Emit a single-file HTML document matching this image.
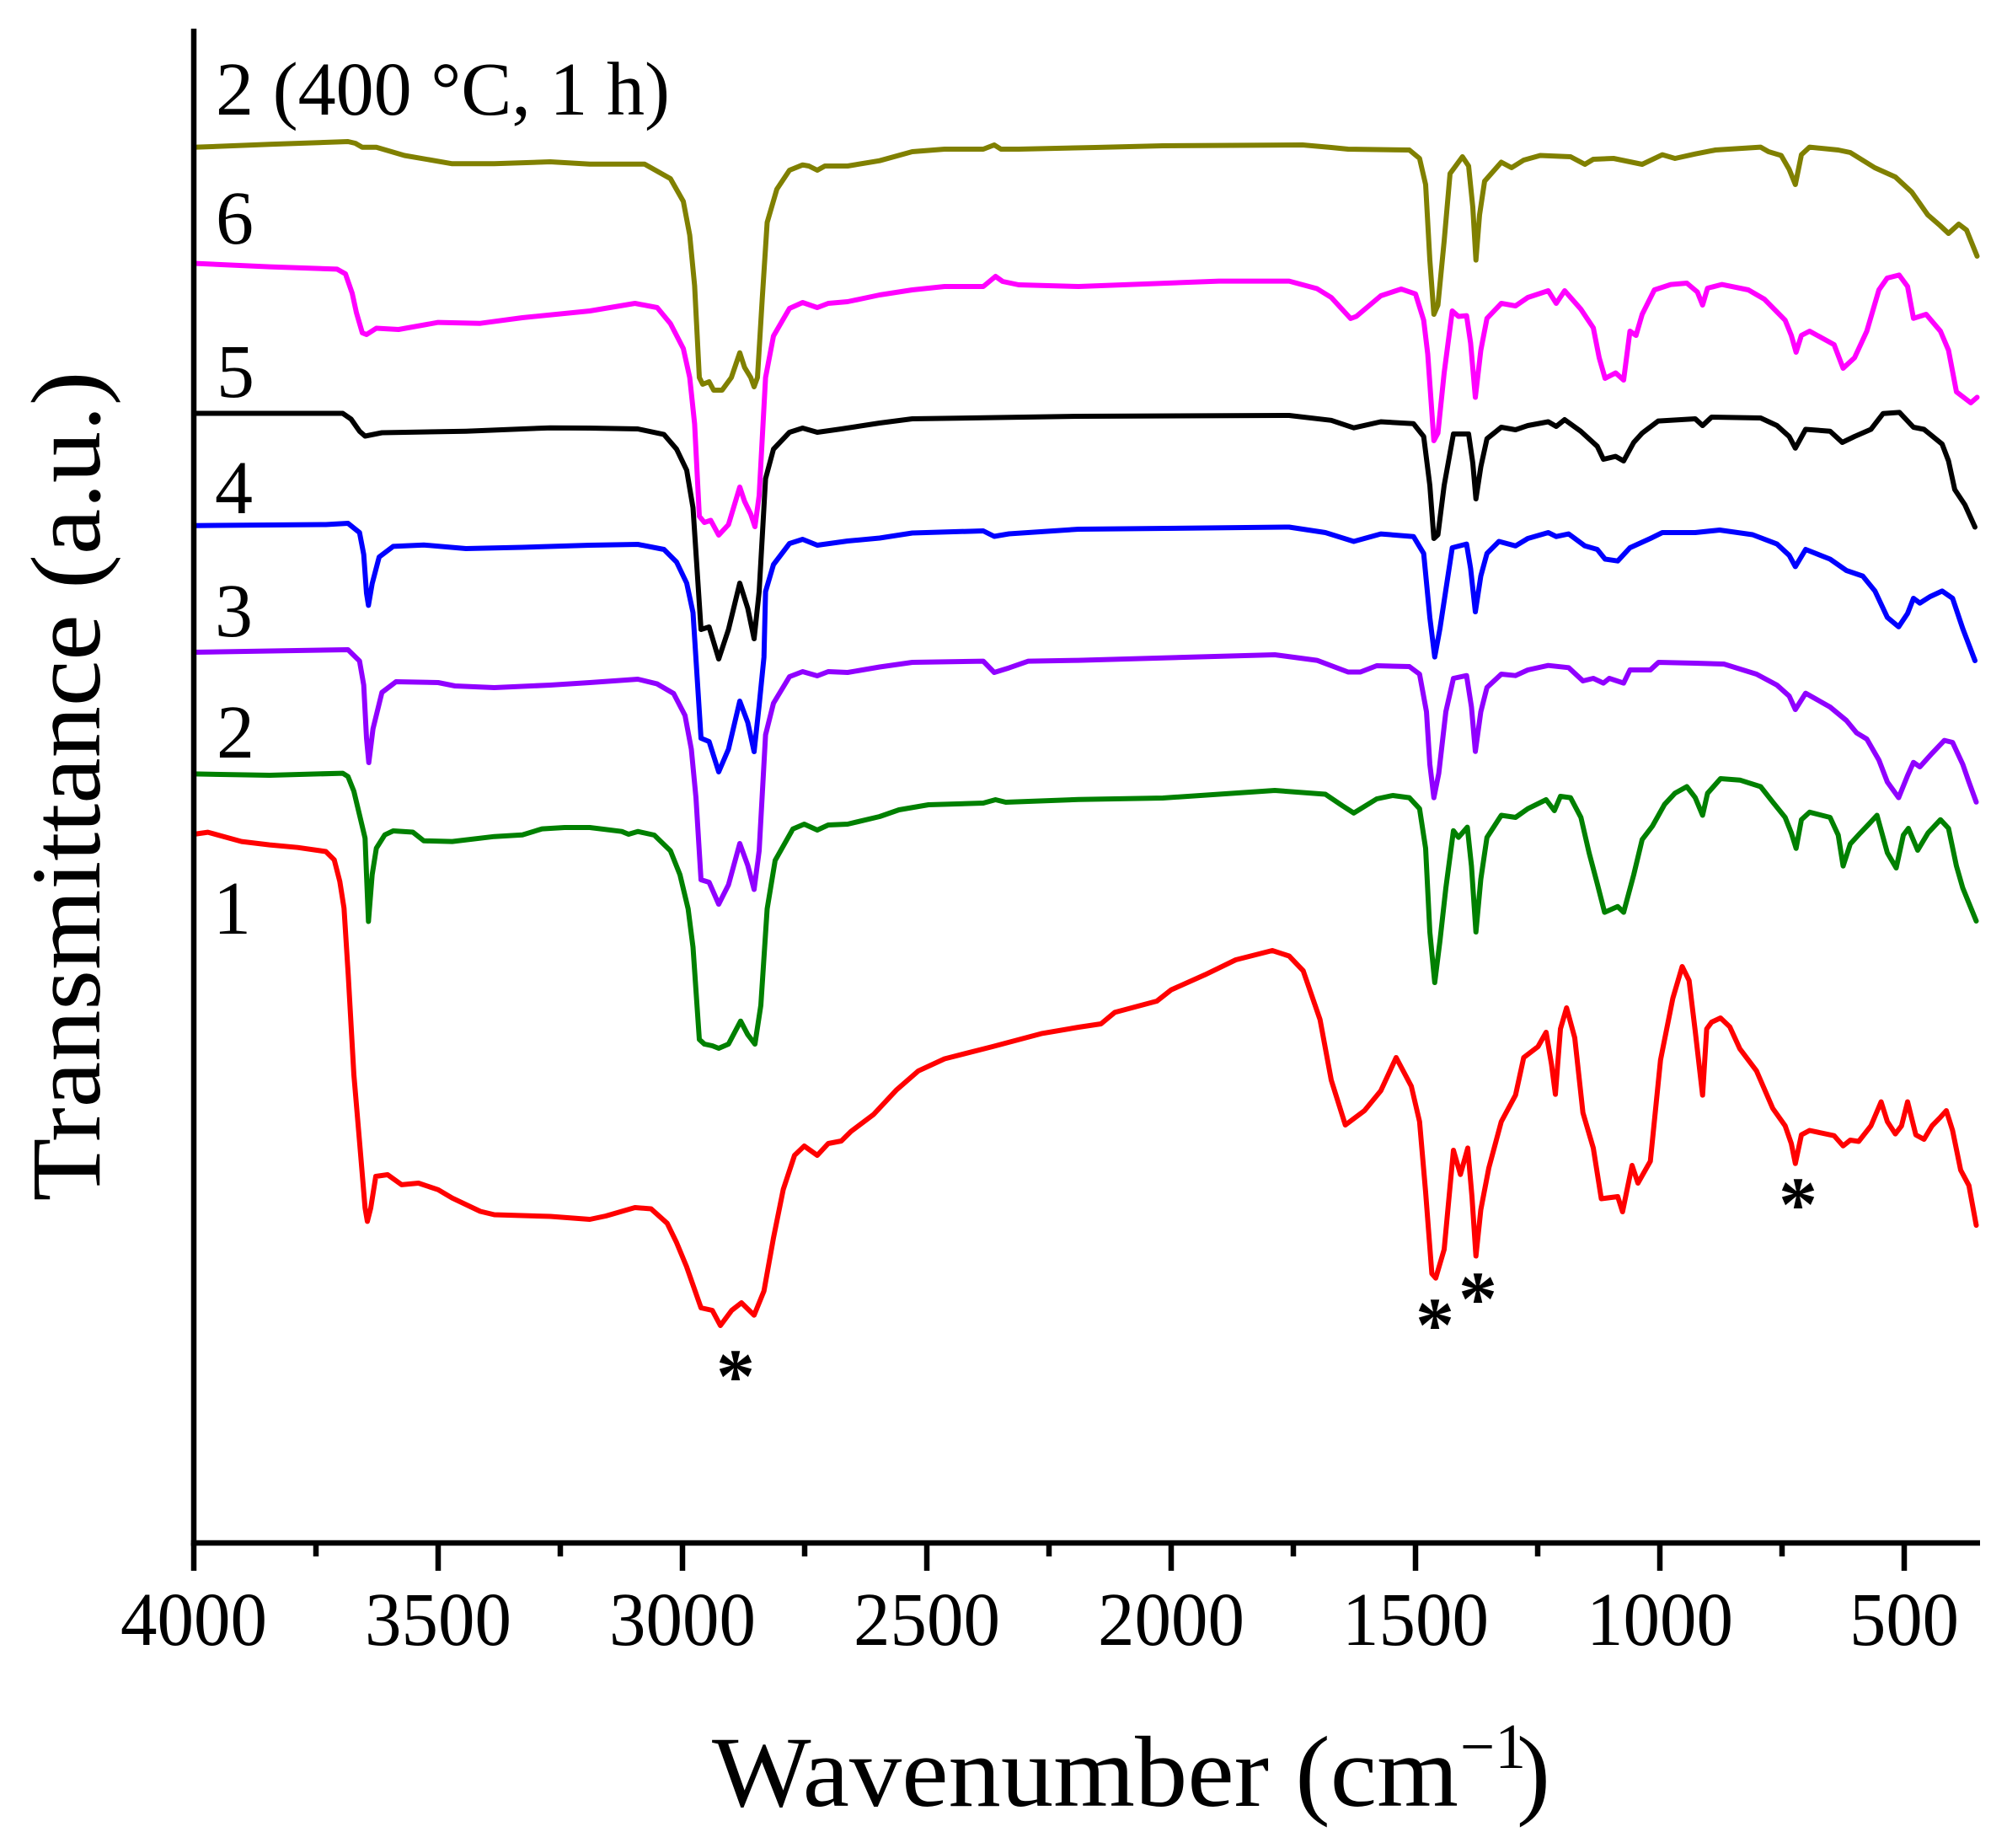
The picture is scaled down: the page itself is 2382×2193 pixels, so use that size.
<!DOCTYPE html>
<html>
<head>
<meta charset="utf-8">
<style>
html,body{margin:0;padding:0;background:#fff;}
svg{display:block;}
text{font-family:"Liberation Serif",serif;fill:#000;}
polyline{fill:none;stroke-width:6;stroke-linejoin:round;stroke-linecap:round;}
</style>
</head>
<body>
<svg width="2382" height="2193" viewBox="0 0 2382 2193" xmlns="http://www.w3.org/2000/svg">
<rect x="0" y="0" width="2382" height="2193" fill="#fff"/>

<!-- curves -->
<polyline stroke="#808000" points="230,174.8 320,171.3 413,168 421.7,170 430,174.8 446.7,174.8 480,184.5 536.7,194.3 586.7,194.3 653,192 700,194.7 765,194.7 795.7,212 811,239 818.6,279 824.4,339 830,448 834,456 841.6,453 847,463 857,463 868,448 878,418.6 883.7,436 891,448 895,459 899,448 904.7,354 910.5,264 922,224.5 937,202 952.6,195.7 960,197 970,202 979,197 1006,197 1044,190.7 1082.7,180 1121,177 1167,177 1180,172 1188,177 1209,177 1300,175 1380,173 1546,172 1580,175 1600,177 1672.7,178 1684.8,188 1692,219 1697,308.6 1701.8,373 1706.6,362 1714,286 1721,206 1735.7,186 1743,197 1748,246 1751.7,308.6 1756,255 1762,215 1781.8,192.5 1794,199 1808.4,190 1828,184.5 1864,186 1881,195 1891,189 1915,188 1949,195 1973,183.6 1988,188 2012,182.7 2036,178 2089.6,174.6 2099,180 2114,184.5 2123.5,201 2130.8,219 2138,183.6 2147.7,174.6 2181.7,178 2196,181 2225,199 2249.5,210 2269,228 2288,255 2303,268 2312.6,277 2324.7,266 2334,273 2346.5,304"/>

<polyline stroke="#ff00ff" points="230,312.5 320,316.6 400,319.4 410,325 418,348 423,371 430,395 435,397 446.7,389.5 473,391 520,382.6 570,383.7 620,377 700,369 753.6,360 780,365 795.7,384 811,413.6 818.6,448 824.4,503 830,612.6 836,620 843.5,617.5 853,635 864.6,622.5 878,578 883.7,595 891,610 896,625 901,588 908.6,448 918,398.7 937,366 952.6,359 970,365 983,360 1006,358 1044,350 1082.7,344 1121,340 1167,340 1181.5,328 1190,334 1209,338 1280,340 1446.7,333.6 1530,333.6 1563,342.5 1580,353 1603,378 1609.7,375.5 1638.8,351 1663,343 1680,348.8 1689.7,380 1694.5,420 1701.8,523 1706.6,514 1714,442.5 1723.6,369 1731,375.5 1740.6,374.6 1745.4,407 1751,471.5 1757.5,415.7 1764.8,377.8 1781.8,360 1798.7,363 1813.3,353 1837.5,345 1847,360 1857,345 1876,366.6 1891,389 1898,424.6 1905,449 1917.5,442.5 1927,451 1934.5,393 1941.7,398 1949,373 1963.5,344 1983,337.6 2002,336 2014.5,346.5 2020.7,362 2026.6,342 2043.5,337.6 2075,344 2094,355 2118.7,380 2126,398 2131.7,418 2138,398 2147.7,393 2176.8,409 2187.5,437 2201,424.6 2215.6,393 2230,344 2239.8,330 2254,326.4 2264,340 2271,377.8 2286,373 2303,393 2312.6,415.7 2322,465 2339,478 2346.5,471.5"/>

<polyline stroke="#000000" points="230,490.5 406.7,490.5 416.7,497.4 426.7,511.7 433.3,517.5 453.3,513.5 553,511.7 653,507.7 700,508 757,509 788,515.6 803,533 815,558 822.5,602.6 832,747 841.6,744 853,782 864.6,747 878,692 887.5,722 895,758 901,702 908.6,568 918,533 937,513 952.6,508 970,513 998.5,509 1044,502 1082.7,497 1280,494 1530,493 1580,498.8 1606.7,507.7 1638.8,500.5 1677.6,502.8 1689.7,518 1697,576 1701.8,639 1706.6,634.5 1714,576 1725,515 1743,515 1748,549.6 1751.7,592 1757.5,554 1764.8,520.6 1781.8,507 1798.7,510 1813.3,505 1837.5,500.5 1847,506 1857,498 1876,511.7 1895.7,529.6 1903,545 1917.5,541.6 1927,547 1939,525 1949,514 1968,499.6 2012,497 2020.7,505 2031.4,495 2089.6,496 2109,505 2123.5,518 2130.8,531.8 2143,509.5 2172,511.7 2186.5,525 2201,518 2220.5,509.5 2235,490.7 2254.4,489.4 2271,507 2283.5,509.5 2305,527 2312.6,547 2320,581 2332,599 2344,625.5"/>

<polyline stroke="#0000ff" points="230,623.7 386.7,622.5 413,621 426.7,632 431.7,658 435,704 437.3,718.4 441.7,692.6 450,661 466.7,648.4 503,646.7 553,651 620,649.5 700,647 757,646 788,652 803,667 815,692 822.5,727 832,876 841.6,880 853,916 864.6,889 878,832 887.5,857.5 895,892 901,837 906.7,780 908.6,702 918,670 937,645 952.6,640 970,647 1006,642 1044,638.5 1082.7,632.5 1167,630 1180,636.5 1197.5,633.5 1280,628 1530,625.5 1573,632 1606.7,642.5 1638.8,633.6 1677.6,636.7 1689.7,656.8 1697,732.7 1702.8,779.6 1709,746 1723.6,650 1740.6,645.6 1745.4,674.6 1751,726 1757.5,683.6 1764.8,656.8 1779,642.5 1798.7,647.8 1813.3,639 1837.5,632 1847,636.7 1861.8,633.6 1881,647.8 1895.7,652 1905,663.5 1920,665.7 1934.5,650 1958.7,639 1973,632 2012,632 2041,629 2080,634.5 2109,645.6 2123.5,659 2130.8,672.4 2143,652 2172,663.5 2191.4,677 2210.8,683.6 2225.3,701.4 2240,732.7 2253.4,743.8 2264,728 2271,710 2278.6,715.7 2290.7,708 2305,701.4 2317.4,710 2329.5,746 2344,784"/>

<polyline stroke="#9000ff" points="230,774 413,771 426.7,784.4 431.7,813 435,876 437.7,905 442.7,864.8 453.3,821.7 470,809 520,810 540,814 586.7,816 653,813 700,810 757,806 780,811.6 799.5,823 813,849 820.5,889 826,946.5 832,1044 841.6,1047 853,1073 864.6,1050 878,1001 887.5,1027 895,1055.5 901,1009.6 908.6,872 918,834.5 937,803 952.6,797 970,802 983,797 1006,798 1044,791.5 1082.7,786 1167,784.6 1180,798 1197.5,792.6 1220.5,784.6 1280,783.6 1513,777 1563,783.6 1600,797.5 1614.5,797.5 1634,790 1672.7,791 1684.8,800 1693,844.6 1697,907 1701.8,946.6 1707.6,917.8 1716,844.6 1725,805 1740.6,801.7 1746.4,839 1751,891.7 1757.5,844.6 1764.8,815.8 1781.8,800 1798.7,801.7 1813.3,795 1837.5,789.7 1861.8,792.3 1878.7,808 1891,805 1903,810.6 1910,805 1927,810.6 1934.5,795 1958.7,795 1968.4,786 2012,787 2046,788 2084.7,800 2109,813 2123.5,826 2130.8,842 2143,822.6 2172,839 2191.4,855 2203.5,869.7 2215.6,877 2230,902 2240,928 2253.4,946.6 2264,920.4 2271,904.7 2278.6,910 2293,894 2307.7,878.6 2317.4,881 2329.5,907 2336.8,928 2345.5,951.8"/>

<polyline stroke="#008000" points="230,918.4 320,920 406.7,917.6 413,921.5 420,939 426.7,967 433.3,994.7 435,1038 437.3,1093.5 441.7,1038 446.7,1006.5 456.7,990.7 466.7,986 490,987.5 503,997.8 536.7,998.6 586.7,992.7 620,990.7 643.3,983.6 670,982 700,982 738,986.7 746,990 757,986.7 776.5,991 795.7,1009.6 807,1038 816.7,1078.5 822.5,1124 830,1233.5 836,1239 845.4,1241 853,1244 864.6,1239 879,1211.7 887.5,1227.8 896,1239 903,1193 910.5,1078.5 920,1021 941,983.8 954.5,978 970,985 983,979 1006,978 1044,969 1067,961 1102,955 1167,953 1181.5,949 1193.7,952 1280,948.8 1380,947 1513,938 1573,942.5 1593,956 1606.7,964.8 1634,948 1653,944 1672.7,946.6 1684.8,959.7 1692,1006.7 1697,1106 1702.8,1166 1709,1116.6 1716,1053.8 1725,985.8 1731,993.7 1741.5,981.6 1746.4,1027.7 1751.7,1106 1757.5,1043.3 1764.8,993.7 1781.8,967.5 1798.7,970 1813.3,959.7 1835,949 1844.8,962 1852,945 1864,946.6 1876.3,970 1886,1012 1895.7,1048.6 1904.4,1082.6 1920,1075.8 1927,1082.6 1939,1038 1949,996.3 1961,980.6 1975.7,954.4 1987.8,941.4 2002,933.5 2012,946.6 2020.7,967.5 2026.6,941.4 2042,924 2065,925.7 2089.6,933.5 2104,951.8 2118.7,970 2126,988.4 2131.7,1006.7 2138,972.7 2147.7,963.8 2172,970 2181.7,991 2187.5,1027.7 2196,1001.5 2208,988.4 2218,978 2227.7,967.5 2240,1012 2250.5,1030 2259,991 2265,983 2276,1009 2288.3,988.4 2303,972.7 2312.6,983 2322,1027.7 2329.5,1053.8 2345.5,1093"/>

<polyline stroke="#ff0000" points="230,990 246.7,987.6 286.7,998.6 320,1002.6 353.3,1005.7 386.7,1010.5 396.7,1020.4 403.3,1046 408.3,1077.7 413.3,1156.8 420,1275.4 426.7,1354.5 433.3,1433.6 436,1449.4 440,1433.6 446,1396 460,1394 476.7,1405.9 496.7,1404 520,1411.8 536.7,1421.7 570,1437.5 586.7,1441.5 653.3,1443.5 700,1447 719,1443 753.6,1433 772.7,1434.5 791.8,1451.6 803,1474.6 814.8,1503 832,1552 845.4,1555 855,1573 868.4,1555 880,1546 895,1560.7 906.7,1532 918,1469 929.6,1411.5 943,1371 954.5,1360 970,1371 983,1357 998.5,1354 1010,1342.6 1036.8,1322.5 1063.6,1293.8 1090,1270.8 1121,1256.5 1178,1242 1235.8,1226.6 1280,1219 1306.7,1215 1323,1201.4 1373,1188 1390,1174.6 1430,1156.8 1466.7,1139 1510,1128 1530,1134.5 1546.7,1152 1566.7,1210 1580,1281.8 1596.7,1335 1619.4,1318 1638.8,1294.4 1657,1255 1675,1289 1684.8,1331 1692,1414.7 1699.4,1511.4 1704,1516.7 1714,1482.7 1725,1365 1733.3,1393.7 1742,1362.4 1747,1420 1751.7,1490.5 1757.5,1435.6 1767,1386 1781.8,1331 1798.7,1299.6 1808.4,1255 1825.4,1242 1835,1225 1841.4,1263 1846,1298.6 1852,1221 1859.3,1196 1869,1231.6 1878.7,1320.5 1891,1362.4 1900.5,1422.5 1920,1420 1925.7,1438 1937,1383 1944,1404 1958.7,1378 1970.8,1257.8 1985.4,1184.6 1996.5,1147 2004.7,1163.6 2012,1223.8 2020.7,1299.6 2025.6,1221 2031.4,1213 2042,1208 2053,1218.5 2065,1244.7 2084.7,1270.8 2104,1315.3 2118.7,1336 2126,1357 2130.8,1380.7 2138,1346.7 2147.7,1341.5 2176.8,1347.7 2187.5,1359.8 2196,1353 2206,1354.5 2220.5,1336 2232.6,1307.5 2240,1331 2249.5,1345.6 2256.8,1336 2264,1307.5 2273.8,1346.7 2283.5,1352 2293,1336 2303,1325.8 2310,1318 2317.4,1341.5 2327,1388.5 2336.8,1406.8 2345.5,1454"/>

<!-- axes -->
<line x1="230" y1="34" x2="230" y2="1834.5" stroke="#000" stroke-width="6.5"/>
<line x1="226.75" y1="1831" x2="2350" y2="1831" stroke="#000" stroke-width="6.5"/>
<g stroke="#000" stroke-width="6.5">
<line x1="230" y1="1831" x2="230" y2="1864"/>
<line x1="520" y1="1831" x2="520" y2="1864"/>
<line x1="810" y1="1831" x2="810" y2="1864"/>
<line x1="1100" y1="1831" x2="1100" y2="1864"/>
<line x1="1390" y1="1831" x2="1390" y2="1864"/>
<line x1="1680" y1="1831" x2="1680" y2="1864"/>
<line x1="1970" y1="1831" x2="1970" y2="1864"/>
<line x1="2260" y1="1831" x2="2260" y2="1864"/>
<line x1="375" y1="1831" x2="375" y2="1847"/>
<line x1="665" y1="1831" x2="665" y2="1847"/>
<line x1="955" y1="1831" x2="955" y2="1847"/>
<line x1="1245" y1="1831" x2="1245" y2="1847"/>
<line x1="1535" y1="1831" x2="1535" y2="1847"/>
<line x1="1825" y1="1831" x2="1825" y2="1847"/>
<line x1="2115" y1="1831" x2="2115" y2="1847"/>
</g>

<!-- tick labels -->
<g font-size="90" text-anchor="middle">
<text x="230" y="1952" textLength="174" lengthAdjust="spacingAndGlyphs">4000</text>
<text x="520" y="1952" textLength="174" lengthAdjust="spacingAndGlyphs">3500</text>
<text x="810" y="1952" textLength="174" lengthAdjust="spacingAndGlyphs">3000</text>
<text x="1100" y="1952" textLength="174" lengthAdjust="spacingAndGlyphs">2500</text>
<text x="1390" y="1952" textLength="174" lengthAdjust="spacingAndGlyphs">2000</text>
<text x="1680" y="1952" textLength="174" lengthAdjust="spacingAndGlyphs">1500</text>
<text x="1970" y="1952" textLength="174" lengthAdjust="spacingAndGlyphs">1000</text>
<text x="2260" y="1952" textLength="130" lengthAdjust="spacingAndGlyphs">500</text>
</g>

<!-- axis titles -->
<text x="845" y="2143" font-size="120" textLength="886" lengthAdjust="spacingAndGlyphs">Wavenumber (cm</text>
<text x="1733" y="2098" font-size="76" textLength="78" lengthAdjust="spacingAndGlyphs">−1</text>
<text x="1800" y="2143" font-size="120">)</text>

<text transform="translate(118,933) rotate(-90)" font-size="118" text-anchor="middle" textLength="985" lengthAdjust="spacingAndGlyphs">Transmittance (a.u.)</text>

<!-- series labels -->
<g font-size="90">
<text x="256" y="136" textLength="539" lengthAdjust="spacingAndGlyphs">2 (400 °C, 1 h)</text>
<text x="256" y="289">6</text>
<text x="257" y="471">5</text>
<text x="255" y="609">4</text>
<text x="255" y="755">3</text>
<text x="257" y="899">2</text>
<text x="253" y="1108">1</text>
</g>

<!-- asterisks -->
<g font-size="92" font-weight="bold" text-anchor="middle">
<text x="873" y="1664">*</text>
<text x="1703" y="1603">*</text>
<text x="1754" y="1572">*</text>
<text x="2134" y="1460">*</text>
</g>
</svg>
</body>
</html>
